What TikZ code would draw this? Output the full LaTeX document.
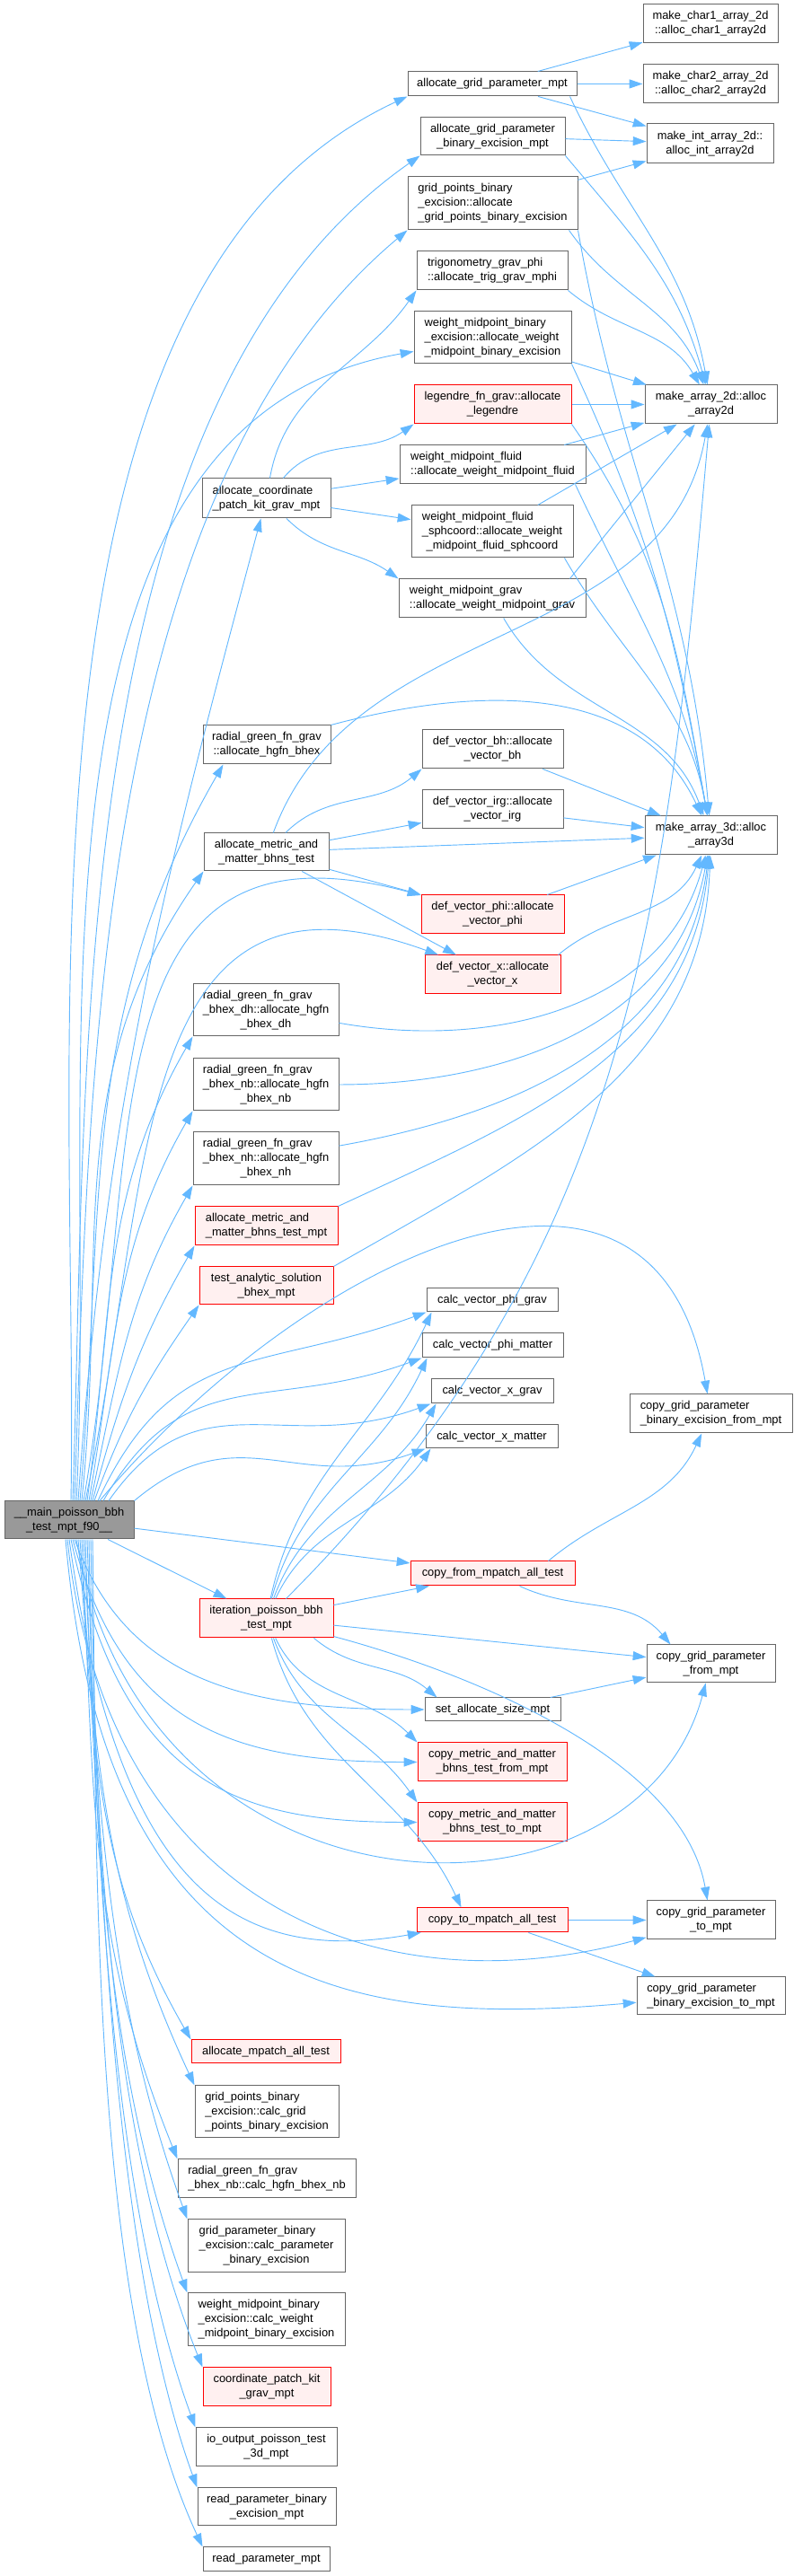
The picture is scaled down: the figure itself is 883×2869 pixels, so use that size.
\documentclass[tikz,border=0pt]{standalone}
\usepackage{fontspec}
\setmainfont{Liberation Sans}
\usepackage{tikz}
\usetikzlibrary{arrows.meta}
\definecolor{edgeblue}{HTML}{63B8FF}
\definecolor{boxgray}{HTML}{666666}
\definecolor{callred}{HTML}{FF0000}
\definecolor{redfill}{HTML}{FFF0F0}
\definecolor{mainfill}{HTML}{999999}
% lines left aligned, last line centred (doxygen style)
\newcommand{\fnl}[2]{\begin{tabular}{@{}l@{}}#1\\\multicolumn{1}{@{}c@{}}{#2}\end{tabular}}
\tikzset{
  fn/.style={draw=boxgray,fill=white,line width=0.25pt,inner sep=0.5pt},
  fnred/.style={fn,draw=callred,fill=redfill},
  fnmain/.style={fn,fill=mainfill},
  sz/.style n args={2}{minimum width=#1*0.25pt,minimum height=#2*0.25pt},
  arr/.style={-{Triangle[length=3.7pt,width=2.5pt]},draw=edgeblue,line width=0.23pt}
}

\begin{document}
\begin{tikzpicture}[
  x=0.25pt,y=0.25pt,
  every node/.style={font=\fontsize{3.22}{4}\selectfont}
]
\useasboundingbox (0,0) rectangle (883,2869);

% functions
\node[fn,sz={150}{43}] (char1) at (791,2842.5) {\fnl{make\_char1\_array\_2d}{::alloc\_char1\_array2d}};
\node[fn,sz={150}{43}] (char2) at (791,2775.5) {\fnl{make\_char2\_array\_2d}{::alloc\_char2\_array2d}};
\node[fn,sz={188}{27}] (gridpar) at (548,2775.5) {allocate\_grid\_parameter\_mpt};
\node[fn,sz={161}{42}] (gridparbe) at (548.5,2717) {\fnl{allocate\_grid\_parameter}{\_binary\_excision\_mpt}};
\node[fn,sz={141}{44}] (int2d) at (790.5,2709) {\fnl{make\_int\_array\_2d::}{alloc\_int\_array2d}};
\node[fn,sz={189}{59}] (gridptsalloc) at (548.5,2642.5) {\fnl{grid\_points\_binary\\\_excision::allocate}{\_grid\_points\_binary\_excision}};
\node[fn,sz={168}{43}] (trig) at (548,2567.5) {\fnl{trigonometry\_grav\_phi}{::allocate\_trig\_grav\_mphi}};
\node[fn,sz={175}{58}] (wmbealloc) at (548.5,2493) {\fnl{weight\_midpoint\_binary\\\_excision::allocate\_weight}{\_midpoint\_binary\_excision}};
\node[fnred,sz={175}{43}] (legendre) at (548.5,2418.5) {\fnl{legendre\_fn\_grav::allocate}{\_legendre}};
\node[fn,sz={147}{43}] (arr2d) at (791.5,2418.5) {\fnl{make\_array\_2d::alloc}{\_array2d}};
\node[fn,sz={207}{43}] (wmfluid) at (548.5,2351.5) {\fnl{weight\_midpoint\_fluid}{::allocate\_weight\_midpoint\_fluid}};
\node[fn,sz={143}{44}] (coordkit) at (296.5,2314) {\fnl{allocate\_coordinate}{\_patch\_kit\_grav\_mpt}};
\node[fn,sz={180}{58}] (wmsph) at (548,2277) {\fnl{weight\_midpoint\_fluid\\\_sphcoord::allocate\_weight}{\_midpoint\_fluid\_sphcoord}};
\node[fn,sz={208}{43}] (wmgrav) at (548,2202.5) {\fnl{weight\_midpoint\_grav}{::allocate\_weight\_midpoint\_grav}};
\node[fn,sz={142}{43}] (hgfnbhex) at (297,2039.5) {\fnl{radial\_green\_fn\_grav}{::allocate\_hgfn\_bhex}};
\node[fn,sz={157}{43}] (vecbh) at (548.5,2034.5) {\fnl{def\_vector\_bh::allocate}{\_vector\_bh}};
\node[fn,sz={157}{43}] (vecirg) at (548.5,1967.5) {\fnl{def\_vector\_irg::allocate}{\_vector\_irg}};
\node[fn,sz={139}{42}] (metric) at (296.5,1920) {\fnl{allocate\_metric\_and}{\_matter\_bhns\_test}};
\node[fn,sz={147}{43}] (arr3d) at (791.5,1938.5) {\fnl{make\_array\_3d::alloc}{\_array3d}};
\node[fnred,sz={159}{43}] (vecphi) at (548.5,1850.5) {\fnl{def\_vector\_phi::allocate}{\_vector\_phi}};
\node[fnred,sz={151}{43}] (vecx) at (548.5,1783.5) {\fnl{def\_vector\_x::allocate}{\_vector\_x}};
\node[fn,sz={162}{58}] (hgfndh) at (296,1744) {\fnl{radial\_green\_fn\_grav\\\_bhex\_dh::allocate\_hgfn}{\_bhex\_dh}};
\node[fn,sz={162}{58}] (hgfnnb) at (296,1661) {\fnl{radial\_green\_fn\_grav\\\_bhex\_nb::allocate\_hgfn}{\_bhex\_nb}};
\node[fn,sz={162}{59}] (hgfnnh) at (296,1578.5) {\fnl{radial\_green\_fn\_grav\\\_bhex\_nh::allocate\_hgfn}{\_bhex\_nh}};
\node[fnred,sz={159}{43}] (metricmpt) at (296.5,1503.5) {\fnl{allocate\_metric\_and}{\_matter\_bhns\_test\_mpt}};
\node[fnred,sz={149}{42}] (analytic) at (296.5,1437) {\fnl{test\_analytic\_solution}{\_bhex\_mpt}};
\node[fn,sz={146}{26}] (cvpg) at (548,1421) {calc\_vector\_phi\_grav};
\node[fn,sz={157}{27}] (cvpm) at (548.5,1370.5) {calc\_vector\_phi\_matter};
\node[fn,sz={136}{27}] (cvxg) at (548,1319.5) {calc\_vector\_x\_grav};
\node[fn,sz={147}{26}] (cvxm) at (547.5,1269) {calc\_vector\_x\_matter};
\node[fn,sz={181}{43}] (cpbefrom) at (791.5,1294.5) {\fnl{copy\_grid\_parameter}{\_binary\_excision\_from\_mpt}};
\node[fnmain,sz={144}{42}] (mainfn) at (77,1176) {\fnl{\_\_main\_poisson\_bbh}{\_test\_mpt\_f90\_\_}};
\node[fnred,sz={183}{27}] (copyfrom) at (548.5,1116.5) {copy\_from\_mpatch\_all\_test};
\node[fnred,sz={149}{43}] (iter) at (296.5,1066.5) {\fnl{iteration\_poisson\_bbh}{\_test\_mpt}};
\node[fn,sz={143}{42}] (cpfrom) at (791.5,1016) {\fnl{copy\_grid\_parameter}{\_from\_mpt}};
\node[fn,sz={151}{26}] (setsize) at (548.5,965) {set\_allocate\_size\_mpt};
\node[fnred,sz={166}{43}] (cmfrom) at (548,906.5) {\fnl{copy\_metric\_and\_matter}{\_bhns\_test\_from\_mpt}};
\node[fnred,sz={166}{43}] (cmto) at (548,839.5) {\fnl{copy\_metric\_and\_matter}{\_bhns\_test\_to\_mpt}};
\node[fnred,sz={168}{27}] (copyto) at (548,730.5) {copy\_to\_mpatch\_all\_test};
\node[fn,sz={143}{43}] (cpto) at (791.5,730.5) {\fnl{copy\_grid\_parameter}{\_to\_mpt}};
\node[fn,sz={165}{42}] (cpbeto) at (791.5,646) {\fnl{copy\_grid\_parameter}{\_binary\_excision\_to\_mpt}};
\node[fnred,sz={166}{26}] (mpatch) at (296,584) {allocate\_mpatch\_all\_test};
\node[fn,sz={160}{58}] (gridptscalc) at (297,517) {\fnl{grid\_points\_binary\\\_excision::calc\_grid}{\_points\_binary\_excision}};
\node[fn,sz={198}{43}] (hgfnnbcalc) at (297,442.5) {\fnl{radial\_green\_fn\_grav}{\_bhex\_nb::calc\_hgfn\_bhex\_nb}};
\node[fn,sz={175}{59}] (gridparcalc) at (296.5,367.5) {\fnl{grid\_parameter\_binary\\\_excision::calc\_parameter}{\_binary\_excision}};
\node[fn,sz={175}{59}] (wmbecalc) at (296.5,285.5) {\fnl{weight\_midpoint\_binary\\\_excision::calc\_weight}{\_midpoint\_binary\_excision}};
\node[fnred,sz={142}{43}] (coordkitmpt) at (297,210.5) {\fnl{coordinate\_patch\_kit}{\_grav\_mpt}};
\node[fn,sz={157}{43}] (ioout) at (296.5,143.5) {\fnl{io\_output\_poisson\_test}{\_3d\_mpt}};
\node[fn,sz={154}{42}] (readbe) at (297,77) {\fnl{read\_parameter\_binary}{\_excision\_mpt}};
\node[fn,sz={141}{27}] (readpar) at (296.5,18.5) {read\_parameter\_mpt};

% calls from the main program, upwards
\draw[arr] ([xshift=0.5pt]mainfn.north) to[out=89,in=205,looseness=0.8] (gridpar.south west);
\draw[arr] ([xshift=1pt]mainfn.north) to[out=88,in=215,looseness=0.8] (gridparbe.south west);
\draw[arr] ([xshift=1.5pt]mainfn.north) to[out=88,in=220,looseness=0.8] (gridptsalloc.south west);
\draw[arr] ([xshift=2pt]mainfn.north) to[out=87,in=190,looseness=0.9] (wmbealloc);
\draw[arr] ([xshift=2.5pt]mainfn.north) to[out=86,in=255] (coordkit);
\draw[arr] ([xshift=3pt]mainfn.north) to[out=85,in=240] ([xshift=5.75pt]hgfnbhex.south west);
\draw[arr] ([xshift=3.5pt]mainfn.north) to[out=84,in=235] (metric.south west);
\draw[arr] ([xshift=4pt]mainfn.north) to[out=80,in=165,looseness=1.3] (vecphi);
\draw[arr] ([xshift=4.5pt]mainfn.north) to[out=78,in=160,looseness=1.3] (vecx);
\draw[arr] ([xshift=5pt]mainfn.north) to[out=82,in=240] (hgfndh.south west);
\draw[arr] ([xshift=5.5pt]mainfn.north) to[out=80,in=240] (hgfnnb.south west);
\draw[arr] ([xshift=6pt]mainfn.north) to[out=78,in=240] (hgfnnh.south west);
\draw[arr] ([xshift=6.5pt]mainfn.north) to[out=75,in=240] (metricmpt.south west);
\draw[arr] ([xshift=7pt]mainfn.north) to[out=70,in=235] (analytic.south west);
\draw[arr] ([xshift=8pt]mainfn.north) to[out=65,in=200,looseness=1.2] (cvpg.south west);
\draw[arr] ([xshift=9.5pt]mainfn.north) to[out=60,in=200,looseness=1.2] (cvpm.south west);
\draw[arr] ([xshift=11pt]mainfn.north) to[out=55,in=200,looseness=1.2] (cvxg.south west);
\draw[arr] (mainfn.north east) to[out=40,in=200,looseness=1.2] (cvxm.south west);
\draw[arr] ([xshift=8.5pt]mainfn.north) to[out=50,in=100,looseness=1.3] (cpbefrom);
\draw[arr] (mainfn) -- (copyfrom);
\draw[arr] (mainfn) -- (iter);

% calls from the main program, downwards
\draw[arr] ([xshift=1.5pt]mainfn.south) to[out=-70,in=180,out distance=42pt,in distance=50pt] (setsize);
\draw[arr] ([xshift=1pt]mainfn.south) to[out=-75,in=180,out distance=55pt,in distance=50pt] (cmfrom);
\draw[arr] ([xshift=0.5pt]mainfn.south) to[out=-78,in=180,out distance=70pt,in distance=50pt] (cmto);
\draw[arr] ([xshift=2pt]mainfn.south) to[out=-80,in=255,out distance=112pt,in distance=75pt] (cpfrom);
\draw[arr] (mainfn.south) to[out=-82,in=190,out distance=95pt,in distance=55pt] (copyto);
\draw[arr] ([xshift=-0.5pt]mainfn.south) to[out=-84,in=195,out distance=100pt,in distance=80pt] (cpto);
\draw[arr] ([xshift=-1pt]mainfn.south) to[out=-85,in=185,out distance=125pt,in distance=82pt] (cpbeto);
\draw[arr] ([xshift=2.5pt]mainfn.south) to[out=-85,in=120] (mpatch.north west);
\draw[arr] ([xshift=3pt]mainfn.south) to[out=-86,in=115] (gridptscalc.north west);
\draw[arr] ([xshift=3.5pt]mainfn.south) to[out=-87,in=112] (hgfnnbcalc.north west);
\draw[arr] ([xshift=4pt]mainfn.south) to[out=-87,in=110,looseness=0.9] (gridparcalc.north west);
\draw[arr] ([xshift=4.5pt]mainfn.south) to[out=-88,in=110,looseness=0.85] (wmbecalc.north west);
\draw[arr] ([xshift=5pt]mainfn.south) to[out=-88,in=112,looseness=0.8] (coordkitmpt.north west);
\draw[arr] ([xshift=5.5pt]mainfn.south) to[out=-89,in=110,looseness=0.75] (ioout.north west);
\draw[arr] ([xshift=6pt]mainfn.south) to[out=-89,in=110,looseness=0.7] (readbe.north west);
\draw[arr] ([xshift=6.5pt]mainfn.south) to[out=-89,in=115,looseness=0.7] (readpar.north west);

% allocate_grid_parameter family
\draw[arr] (gridpar) -- (char1);
\draw[arr] (gridpar) -- (char2);
\draw[arr] (gridpar) -- (int2d);
\draw[arr] ([xshift=-2pt]gridpar.south east) to[out=-65,in=100] (arr2d);
\draw[arr] (gridparbe) -- (int2d);
\draw[arr] (gridparbe.south east) to[out=-50,in=105] (arr2d);
\draw[arr] (gridptsalloc) -- (int2d);
\draw[arr] ([xshift=-2.5pt]gridptsalloc.south east) to[out=-55,in=110] (arr2d);
\draw[arr] (gridptsalloc.south east) to[out=-80,in=95] (arr3d);
\draw[arr] (trig.south east) to[out=-40,in=120] (arr2d);
\draw[arr] (wmbealloc) -- (arr2d);
\draw[arr] (wmbealloc.south east) to[out=-65,in=100] (arr3d);
\draw[arr] (legendre) -- (arr2d);
\draw[arr] (legendre.south east) to[out=-55,in=100] (arr3d);
\draw[arr] (wmfluid) -- (arr2d);
\draw[arr] ([xshift=-3pt]wmfluid.south east) to[out=-65,in=100] (arr3d);
\draw[arr] (wmsph) -- (arr2d);
\draw[arr] ([xshift=-2.5pt]wmsph.south east) to[out=-60,in=100] (arr3d);
\draw[arr] ([xshift=-4.5pt]wmgrav.north east) -- (arr2d);
\draw[arr] (wmgrav) to[out=-60,in=110] (arr3d);

% allocate_coordinate_patch_kit_grav_mpt
\draw[arr] (coordkit) to[out=80,in=235] (trig.south west);
\draw[arr] (coordkit) to[out=50,in=215] (legendre.south west);
\draw[arr] (coordkit) -- (wmfluid);
\draw[arr] (coordkit) -- (wmsph);
\draw[arr] (coordkit) to[out=-45,in=145] (wmgrav.north west);

% allocate_metric_and_matter_bhns_test
\draw[arr] (metric) to[out=70,in=-100] (arr2d);
\draw[arr] (metric) to[out=45,in=220] (vecbh.south west);
\draw[arr] (metric) -- (vecirg);
\draw[arr] (metric) -- (arr3d);
\draw[arr] (metric) -- (vecphi);
\draw[arr] (metric) -- (vecx);
\draw[arr] (hgfnbhex.north east) to[out=15,in=115] (arr3d);
\draw[arr] (vecbh) -- (arr3d);
\draw[arr] (vecirg) -- (arr3d);
\draw[arr] (vecphi) -- (arr3d);
\draw[arr] ([xshift=-0.75pt]vecx.north east) to[out=40,in=-115] (arr3d);
\draw[arr] (hgfndh) to[out=-10,in=-105] (arr3d);
\draw[arr] (hgfnnb) to[out=0,in=-100] (arr3d);
\draw[arr] (hgfnnh) to[out=10,in=-97] (arr3d);
\draw[arr] (metricmpt.north east) to[out=25,in=-95] (arr3d);
\draw[arr] (analytic.north east) to[out=30,in=-92] (arr3d);

% iteration_poisson_bbh_test_mpt
\draw[arr] (iter) to[out=78,in=245] ([xshift=1.5pt]cvpg.south west);
\draw[arr] (iter) to[out=75,in=245] ([xshift=1.5pt]cvpm.south west);
\draw[arr] (iter) to[out=70,in=240] ([xshift=1.5pt]cvxg.south west);
\draw[arr] (iter) to[out=65,in=235] ([xshift=1.5pt]cvxm.south west);
\draw[arr] (iter) to[out=45,in=-95] (arr2d);
\draw[arr] (iter) -- (copyfrom);
\draw[arr] (iter) -- (cpfrom);
\draw[arr] ([xshift=-5.5pt]iter.south east) to[out=-40,in=140] ([xshift=3.5pt]setsize.north west);
\draw[arr] (iter) to[out=-65,in=135] (cmfrom.north west);
\draw[arr] (iter) to[out=-70,in=125] (cmto.north west);
\draw[arr] (iter) to[out=-75,in=115] ([xshift=12.5pt]copyto.north west);
\draw[arr] (iter) to[out=-15,in=100,looseness=0.8] (cpto);

% copies
\draw[arr] ([xshift=-7.5pt]copyfrom.north east) to[out=40,in=-115] (cpbefrom);
\draw[arr] (copyfrom) to[out=-25,in=130] ([xshift=6.75pt]cpfrom.north west);
\draw[arr] (setsize) -- (cpfrom);
\draw[arr] (copyto) -- (cpto);
\draw[arr] (copyto) -- (cpbeto);
\end{tikzpicture}
\end{document}
